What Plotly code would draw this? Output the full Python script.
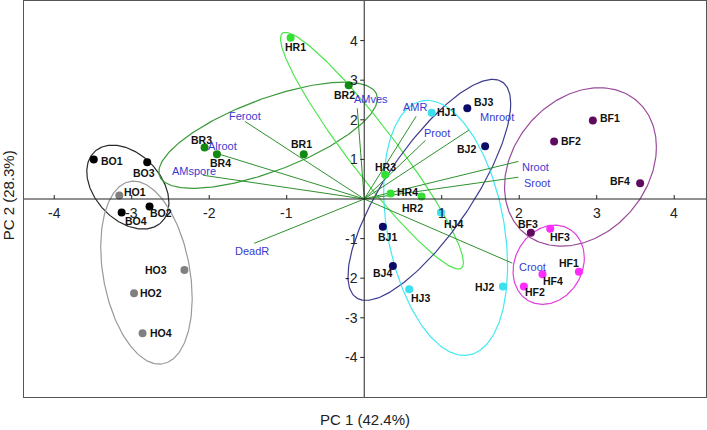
import numpy as np
import plotly.graph_objects as go

# ---------------- data ----------------
sample_names = ["BO1", "BO2", "BO3", "BO4", "HO1", "HO2", "HO3", "HO4",
                "BR1", "BR2", "BR3", "BR4", "HR1", "HR2", "HR3", "HR4",
                "BJ1", "BJ2", "BJ3", "BJ4", "HJ1", "HJ2", "HJ3", "HJ4",
                "BF1", "BF2", "BF3", "BF4", "HF1", "HF2", "HF3", "HF4"]
sample_group = [n[:2] for n in sample_names]
pc1 = [-3.49, -2.77, -2.80, -3.13, -3.16, -2.97, -2.32, -2.86,
       -0.78, -0.20, -2.06, -1.90, -0.95, 0.74, 0.27, 0.34,
       0.24, 1.56, 1.33, 0.37, 0.87, 1.79, 0.58, 0.99,
       2.95, 2.45, 2.15, 3.56, 2.77, 2.06, 2.40, 2.30]
pc2 = [1.00, -0.19, 0.93, -0.34, 0.09, -2.38, -1.79, -3.39,
       1.13, 2.87, 1.30, 1.13, 4.07, 0.06, 0.61, 0.14,
       -0.70, 1.33, 2.29, -1.69, 2.18, -2.21, -2.28, -0.34,
       1.98, 1.45, -0.85, 0.40, -1.84, -2.21, -0.75, -1.90]

var_names = ["Feroot", "Alroot", "AMspore", "DeadR", "AMves", "AMR",
             "Proot", "Mnroot", "Nroot", "Sroot", "Croot"]
var_pc1 = [-1.54, -1.95, -2.08, -1.42, -0.09, 0.67, 0.79, 1.35, 1.99, 1.99, 1.91]
var_pc2 = [1.96, 1.18, 0.60, -1.12, 2.29, 2.09, 1.48, 1.74, 0.95, 0.55, -1.62]

# group ellipses: centre, half-width, half-height, correlation
ell_group = ["BO", "HO", "BR", "HR", "BJ", "HJ", "BF", "HF"]
ell_cx = [-3.05, -2.81, -1.24, 0.10, 0.84, 1.05, 2.79, 2.38]
ell_cy = [0.30, -1.86, 1.61, 1.22, 0.23, -0.73, 0.81, -1.66]
ell_sx = [0.53, 0.59, 1.41, 1.18, 1.05, 0.80, 0.98, 0.46]
ell_sy = [1.06, 2.31, 1.34, 2.99, 2.79, 3.22, 2.00, 1.00]
ell_r = [-0.37, -0.28, 0.69, -0.945, 0.78, -0.30, 0.25, 0.17]

x_ticks = [-4, -3, -2, -1, 1, 2, 3, 4]
y_ticks = [-4, -3, -2, -1, 1, 2, 3, 4]
x_title = "PC 1 (42.4%)"
y_title = "PC 2 (28.3%)"

# ---------------- styles ----------------
point_color = {"BO": "#000000", "HO": "#808080", "BR": "#108a10", "HR": "#33e033",
               "BJ": "#0c0c68", "HJ": "#3ae0ee", "BF": "#5e0a5e", "HF": "#ff2cff"}
ellipse_color = {"BO": "#2a2a2a", "HO": "#9a9a9a", "BR": "#3a9a3a", "HR": "#4ce64c",
                 "BJ": "#3c3c90", "HJ": "#44e8f2", "BF": "#9b4b9b", "HF": "#e040e0"}
# label placement: (anchor, dx px, dy px downward)
label_pos = {
    "BO1": ("l", 5, 2), "BO2": ("l", -2, 6), "BO3": ("c", -3, 11), "BO4": ("l", 1, 9),
    "HO1": ("l", 3, -3), "HO2": ("l", 4, 0), "HO3": ("r", -15, 0), "HO4": ("l", 5, 0),
    "BR1": ("c", -2, -10), "BR2": ("c", -4, 10), "BR3": ("c", -3, -8), "BR4": ("c", 4, 9),
    "HR1": ("c", 5, 9), "HR2": ("c", -9, 11), "HR3": ("c", 0, -8), "HR4": ("l", 4, -1),
    "BJ1": ("c", 5, 10), "BJ2": ("r", -7, 3), "BJ3": ("l", 5, -6), "BJ4": ("c", -10, 7),
    "HJ1": ("l", 3, -1), "HJ2": ("r", -7, 0), "HJ3": ("c", 11, 9), "HJ4": ("c", 13, 12),
    "BF1": ("l", 5, -3), "BF2": ("l", 5, -1), "BF3": ("c", -3, -9), "BF4": ("r", -8, -2),
    "HF1": ("c", -10, -9), "HF2": ("c", 11, 5), "HF3": ("c", 10, 8), "HF4": ("c", 11, 7),
}
var_label_pos = {
    "Feroot": ("c", 0, -5), "Alroot": ("c", 9, -6), "AMspore": ("c", -9, -4),
    "DeadR": ("c", -2, 8), "AMves": ("c", 14, -9), "AMR": ("c", -1, -9),
    "Proot": ("c", 12, -7), "Mnroot": ("l", 9, -13), "Nroot": ("l", 2, 6),
    "Sroot": ("l", 4, 6), "Croot": ("l", 5, 4),
}
XR = [-4.39, 4.41]
YR = [-5.0, 5.0]
FONT = "Liberation Sans, Arial, sans-serif"
NARROW = "Liberation Sans Narrow, Arial Narrow, Liberation Sans, Arial, sans-serif"

fig = go.Figure()

# ellipses
t = np.linspace(0, 2 * np.pi, 241)
for g, cx, cy, sx, sy, r in zip(ell_group, ell_cx, ell_cy, ell_sx, ell_sy, ell_r):
    ex = cx + sx * np.cos(t)
    ey = cy + sy * (r * np.cos(t) + np.sqrt(1 - r * r) * np.sin(t))
    fig.add_trace(go.Scatter(x=ex, y=ey, mode="lines",
                             line=dict(color=ellipse_color[g], width=1.2),
                             hoverinfo="skip", showlegend=False))

# loading vectors
for n, vx, vy in zip(var_names, var_pc1, var_pc2):
    fig.add_trace(go.Scatter(x=[0, vx], y=[0, vy], mode="lines",
                             line=dict(color="#2f902f", width=1),
                             hoverinfo="skip", showlegend=False))

# sample points
for g in ell_group:
    idx = [i for i, sg in enumerate(sample_group) if sg == g]
    fig.add_trace(go.Scatter(x=[pc1[i] for i in idx], y=[pc2[i] for i in idx],
                             mode="markers", text=[sample_names[i] for i in idx],
                             marker=dict(color=point_color[g], size=8),
                             showlegend=False))

anchor_map = {"l": "left", "r": "right", "c": "center"}
annotations = []
for n, x, y in zip(sample_names, pc1, pc2):
    a, dx, dy = label_pos[n]
    annotations.append(dict(x=x, y=y, text=n, showarrow=False,
                            xanchor=anchor_map[a], yanchor="middle",
                            xshift=dx, yshift=-dy,
                            font=dict(family=NARROW, size=10.5, color="#111111",
                                      weight="bold")))
for n, x, y in zip(var_names, var_pc1, var_pc2):
    a, dx, dy = var_label_pos[n]
    annotations.append(dict(x=x, y=y, text=n, showarrow=False,
                            xanchor=anchor_map[a], yanchor="middle",
                            xshift=dx, yshift=-dy,
                            font=dict(family=NARROW, size=11, color="#3a3ad0")))
for v in x_ticks:
    annotations.append(dict(x=v, y=0, text=str(v), showarrow=False,
                            xanchor="center", yanchor="top", yshift=-4,
                            font=dict(family=FONT, size=14, color="#222222")))
for v in y_ticks:
    annotations.append(dict(x=0, y=v, text=str(v), showarrow=False,
                            xanchor="right", yanchor="middle", xshift=-4,
                            font=dict(family=FONT, size=14, color="#222222")))
annotations.append(dict(xref="paper", yref="paper", x=0.5, y=-0.058, text=x_title,
                        showarrow=False, xanchor="center", yanchor="middle",
                        font=dict(family=FONT, size=15, color="#222222")))
annotations.append(dict(xref="paper", yref="paper", x=-0.023, y=0.51, text=y_title,
                        showarrow=False, xanchor="center", yanchor="middle",
                        textangle=-90,
                        font=dict(family=FONT, size=15, color="#222222")))

shapes = [
    dict(type="line", xref="x", yref="y", x0=XR[0], x1=XR[1], y0=0, y1=0,
         line=dict(color="#222222", width=1)),
    dict(type="line", xref="x", yref="y", x0=0, x1=0, y0=YR[0], y1=YR[1],
         line=dict(color="#222222", width=1)),
]
for v in x_ticks:
    shapes.append(dict(type="line", xref="x", yref="y", x0=v, x1=v,
                       ysizemode="pixel", yanchor=0, y0=0, y1=4,
                       line=dict(color="#222222", width=1)))
for v in y_ticks:
    shapes.append(dict(type="line", xref="x", yref="y", y0=v, y1=v,
                       xsizemode="pixel", xanchor=0, x0=-4, x1=0,
                       line=dict(color="#222222", width=1)))

fig.update_layout(
    width=707, height=430,
    margin=dict(l=24, r=1, t=1, b=33),
    paper_bgcolor="white", plot_bgcolor="white",
    xaxis=dict(range=XR, showgrid=False, zeroline=False, showticklabels=False,
               ticks="", showline=True, mirror=True, linecolor="#555555", linewidth=1.2),
    yaxis=dict(range=YR, showgrid=False, zeroline=False, showticklabels=False,
               ticks="", showline=True, mirror=True, linecolor="#555555", linewidth=1.2),
    annotations=annotations, shapes=shapes, showlegend=False,
)

fig.write_html("out.html",
               config={"displayModeBar": False},
               post_script="document.body.style.margin='0';document.body.style.padding='0';"
                           "document.body.style.overflow='hidden';")
